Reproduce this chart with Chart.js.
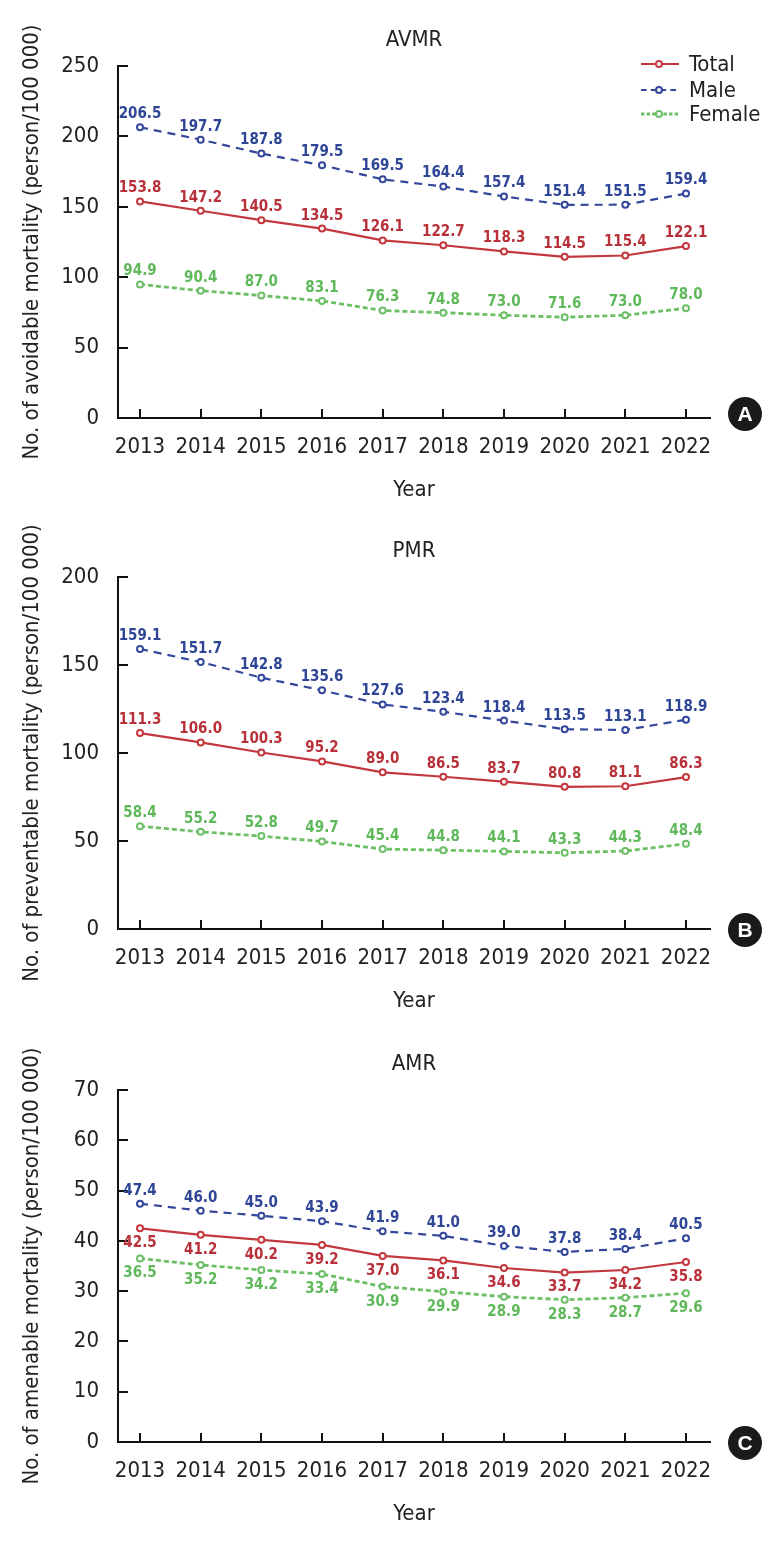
<!DOCTYPE html>
<html>
<head>
<meta charset="utf-8">
<script src="https://cdn.jsdelivr.net/npm/chart.js@4/dist/chart.umd.min.js"></script>
<style>
  html, body { margin: 0; padding: 0; background: #ffffff; }
  body { width: 780px; height: 1548px; position: relative; overflow: hidden; }
  .wrap { position: absolute; left: 0; width: 780px; height: 516px; }
  .badge { position: absolute; width: 34px; height: 34px; border-radius: 50%; background: #1a1a1a; color: #fff;
           font: bold 21px "Liberation Sans", Arial, sans-serif; text-align: center; line-height: 34px; }
</style>
</head>
<body>
<div class="wrap" style="top:0px"><canvas id="cA" width="780" height="516"></canvas></div>
<div class="wrap" style="top:511px"><canvas id="cB" width="780" height="516"></canvas></div>
<div class="wrap" style="top:1024px"><canvas id="cC" width="780" height="516"></canvas></div>
<div class="badge" style="left:728px; top:397px;">A</div>
<div class="badge" style="left:728px; top:913px;">B</div>
<div class="badge" style="left:728px; top:1426px;">C</div>
<script>
// ---------- data ----------
const years = [2013, 2014, 2015, 2016, 2017, 2018, 2019, 2020, 2021, 2022];
const seriesNames = ["Total", "Male", "Female"];

const avmrTotal  = [153.8, 147.2, 140.5, 134.5, 126.1, 122.7, 118.3, 114.5, 115.4, 122.1];
const avmrMale   = [206.5, 197.7, 187.8, 179.5, 169.5, 164.4, 157.4, 151.4, 151.5, 159.4];
const avmrFemale = [94.9, 90.4, 87.0, 83.1, 76.3, 74.8, 73.0, 71.6, 73.0, 78.0];

const pmrTotal  = [111.3, 106.0, 100.3, 95.2, 89.0, 86.5, 83.7, 80.8, 81.1, 86.3];
const pmrMale   = [159.1, 151.7, 142.8, 135.6, 127.6, 123.4, 118.4, 113.5, 113.1, 118.9];
const pmrFemale = [58.4, 55.2, 52.8, 49.7, 45.4, 44.8, 44.1, 43.3, 44.3, 48.4];

const amrTotal  = [42.5, 41.2, 40.2, 39.2, 37.0, 36.1, 34.6, 33.7, 34.2, 35.8];
const amrMale   = [47.4, 46.0, 45.0, 43.9, 41.9, 41.0, 39.0, 37.8, 38.4, 40.5];
const amrFemale = [36.5, 35.2, 34.2, 33.4, 30.9, 29.9, 28.9, 28.3, 28.7, 29.6];

const yTicksA = [0, 50, 100, 150, 200, 250];
const yTicksB = [0, 50, 100, 150, 200];
const yTicksC = [0, 10, 20, 30, 40, 50, 60, 70];

// ---------- styles ----------
const NARROW = '"Liberation Sans Narrow", "DejaVu Sans Condensed", "Roboto", sans-serif';
const LABELFONT = 'bold 15px "DejaVu Sans Condensed", "Liberation Sans Narrow", sans-serif';
const lineColors  = ["#c2383d", "#34479a", "#6cbf66"];
const labelColors = ["#b8313a", "#2f4596", "#5fb85a"];
const dashes = [[], [8, 6], [5, 3]];
const widths = [2.2, 2.2, 2.8];

function makeDatasets(arrs) {
  return arrs.map((arr, i) => ({
    label: seriesNames[i],
    data: arr.map((v, j) => ({ x: years[j], y: v })),
    borderColor: lineColors[i],
    borderWidth: widths[i],
    borderDash: dashes[i],
    pointRadius: 3,
    pointBorderWidth: 2,
    pointBackgroundColor: "#ffffff",
    pointBorderColor: lineColors[i],
    fill: false,
    tension: 0
  }));
}

// inward tick marks
const inwardTicks = {
  id: "inwardTicks",
  afterDatasetsDraw(chart) {
    const ctx = chart.ctx, ca = chart.chartArea;
    ctx.save();
    ctx.strokeStyle = "#111";
    ctx.lineWidth = 2;
    const ys = chart.scales.y;
    ys.ticks.forEach((t, i) => {
      const p = Math.round(ys.getPixelForTick(i));
      ctx.beginPath(); ctx.moveTo(ca.left, p); ctx.lineTo(ca.left + 10, p); ctx.stroke();
    });
    const xs = chart.scales.x;
    xs.ticks.forEach((t, i) => {
      const p = Math.round(xs.getPixelForTick(i));
      ctx.beginPath(); ctx.moveTo(p, ca.bottom); ctx.lineTo(p, ca.bottom - 9); ctx.stroke();
    });
    ctx.restore();
  }
};

// value labels
const valueLabels = {
  id: "valueLabels",
  afterDatasetsDraw(chart, args, opts) {
    const ctx = chart.ctx;
    ctx.save();
    ctx.font = LABELFONT;
    ctx.textAlign = "center";
    ctx.textBaseline = "middle";
    chart.data.datasets.forEach((ds, di) => {
      const meta = chart.getDatasetMeta(di);
      const below = opts.below && opts.below[di];
      ctx.fillStyle = labelColors[di];
      meta.data.forEach((pt, j) => {
        const v = ds.data[j].y;
        ctx.fillText(v.toFixed(1), pt.x, below ? pt.y + 15 : pt.y - 13);
      });
    });
    ctx.restore();
  }
};

// legend (chart A only)
const customLegend = {
  id: "customLegend",
  afterDraw(chart, args, opts) {
    if (!opts.show) return;
    const ctx = chart.ctx;
    ctx.save();
    const rows = [64, 90, 114];
    chart.data.datasets.forEach((ds, i) => {
      const y = rows[i];
      ctx.strokeStyle = lineColors[i];
      ctx.lineWidth = widths[i];
      ctx.setLineDash(dashes[i].map(d => d * 0.7));
      ctx.beginPath(); ctx.moveTo(641, y); ctx.lineTo(679, y); ctx.stroke();
      ctx.setLineDash([]);
      ctx.lineWidth = 2;
      ctx.fillStyle = "#fff";
      ctx.beginPath(); ctx.arc(659, y, 3, 0, Math.PI * 2); ctx.fill(); ctx.stroke();
      ctx.fillStyle = "#222";
      ctx.font = "22px " + NARROW;
      ctx.textAlign = "left";
      ctx.textBaseline = "middle";
      ctx.fillText(ds.label, 689, y + 1);
    });
    ctx.restore();
  }
};

function makeChart(id, title, yTitle, arrs, yTicks, below, showLegend) {
  const yMax = yTicks[yTicks.length - 1];
  const step = yTicks[1] - yTicks[0];
  return new Chart(document.getElementById(id), {
    type: "line",
    data: { datasets: makeDatasets(arrs) },
    plugins: [inwardTicks, valueLabels, customLegend],
    options: {
      responsive: false,
      animation: false,
      layout: { padding: { left: 0, right: 70, top: 0, bottom: 0 } },
      plugins: {
        legend: { display: false },
        tooltip: { enabled: false },
        title: {
          display: true, text: title, color: "#222", fullSize: false,
          font: { family: NARROW, size: 22, weight: "normal", lineHeight: 1.2 },
          padding: { top: 27, bottom: 12.6 }
        },
        valueLabels: { below: below },
        customLegend: { show: showLegend }
      },
      scales: {
        x: {
          type: "linear",
          min: 2012.637, max: 2022.396,
          afterFit(s) { s.height = 98; },
          border: { display: true, color: "#111", width: 2 },
          grid: { display: true, drawOnChartArea: false, drawTicks: false },
          ticks: {
            stepSize: 1, includeBounds: false, autoSkip: false, maxRotation: 0,
            color: "#222", padding: 16,
            font: { family: NARROW, size: 22 },
            callback: v => String(v)
          },
          title: {
            display: true, text: "Year", color: "#222",
            font: { family: NARROW, size: 22, lineHeight: 1.2 },
            padding: { top: 0, bottom: 12.8 }
          }
        },
        y: {
          min: 0, max: yMax,
          afterFit(s) { s.width = 118; },
          border: { display: true, color: "#111", width: 2 },
          grid: { display: true, drawOnChartArea: false, drawTicks: false },
          ticks: {
            stepSize: step, color: "#222", padding: 19,
            font: { family: NARROW, size: 22 },
            callback: v => String(v)
          },
          title: {
            display: true, text: yTitle, color: "#222",
            font: { family: NARROW, size: 22, lineHeight: 1.2 },
            padding: { top: 19, bottom: 0 }
          }
        }
      }
    }
  });
}

makeChart("cA", "AVMR", "No. of avoidable mortality (person/100 000)",
  [avmrTotal, avmrMale, avmrFemale], yTicksA, [false, false, false], true);
makeChart("cB", "PMR", "No. of preventable mortality (person/100 000)",
  [pmrTotal, pmrMale, pmrFemale], yTicksB, [false, false, false], false);
makeChart("cC", "AMR", "No. of amenable mortality (person/100 000)",
  [amrTotal, amrMale, amrFemale], yTicksC, [true, false, true], false);
</script>
</body>
</html>
